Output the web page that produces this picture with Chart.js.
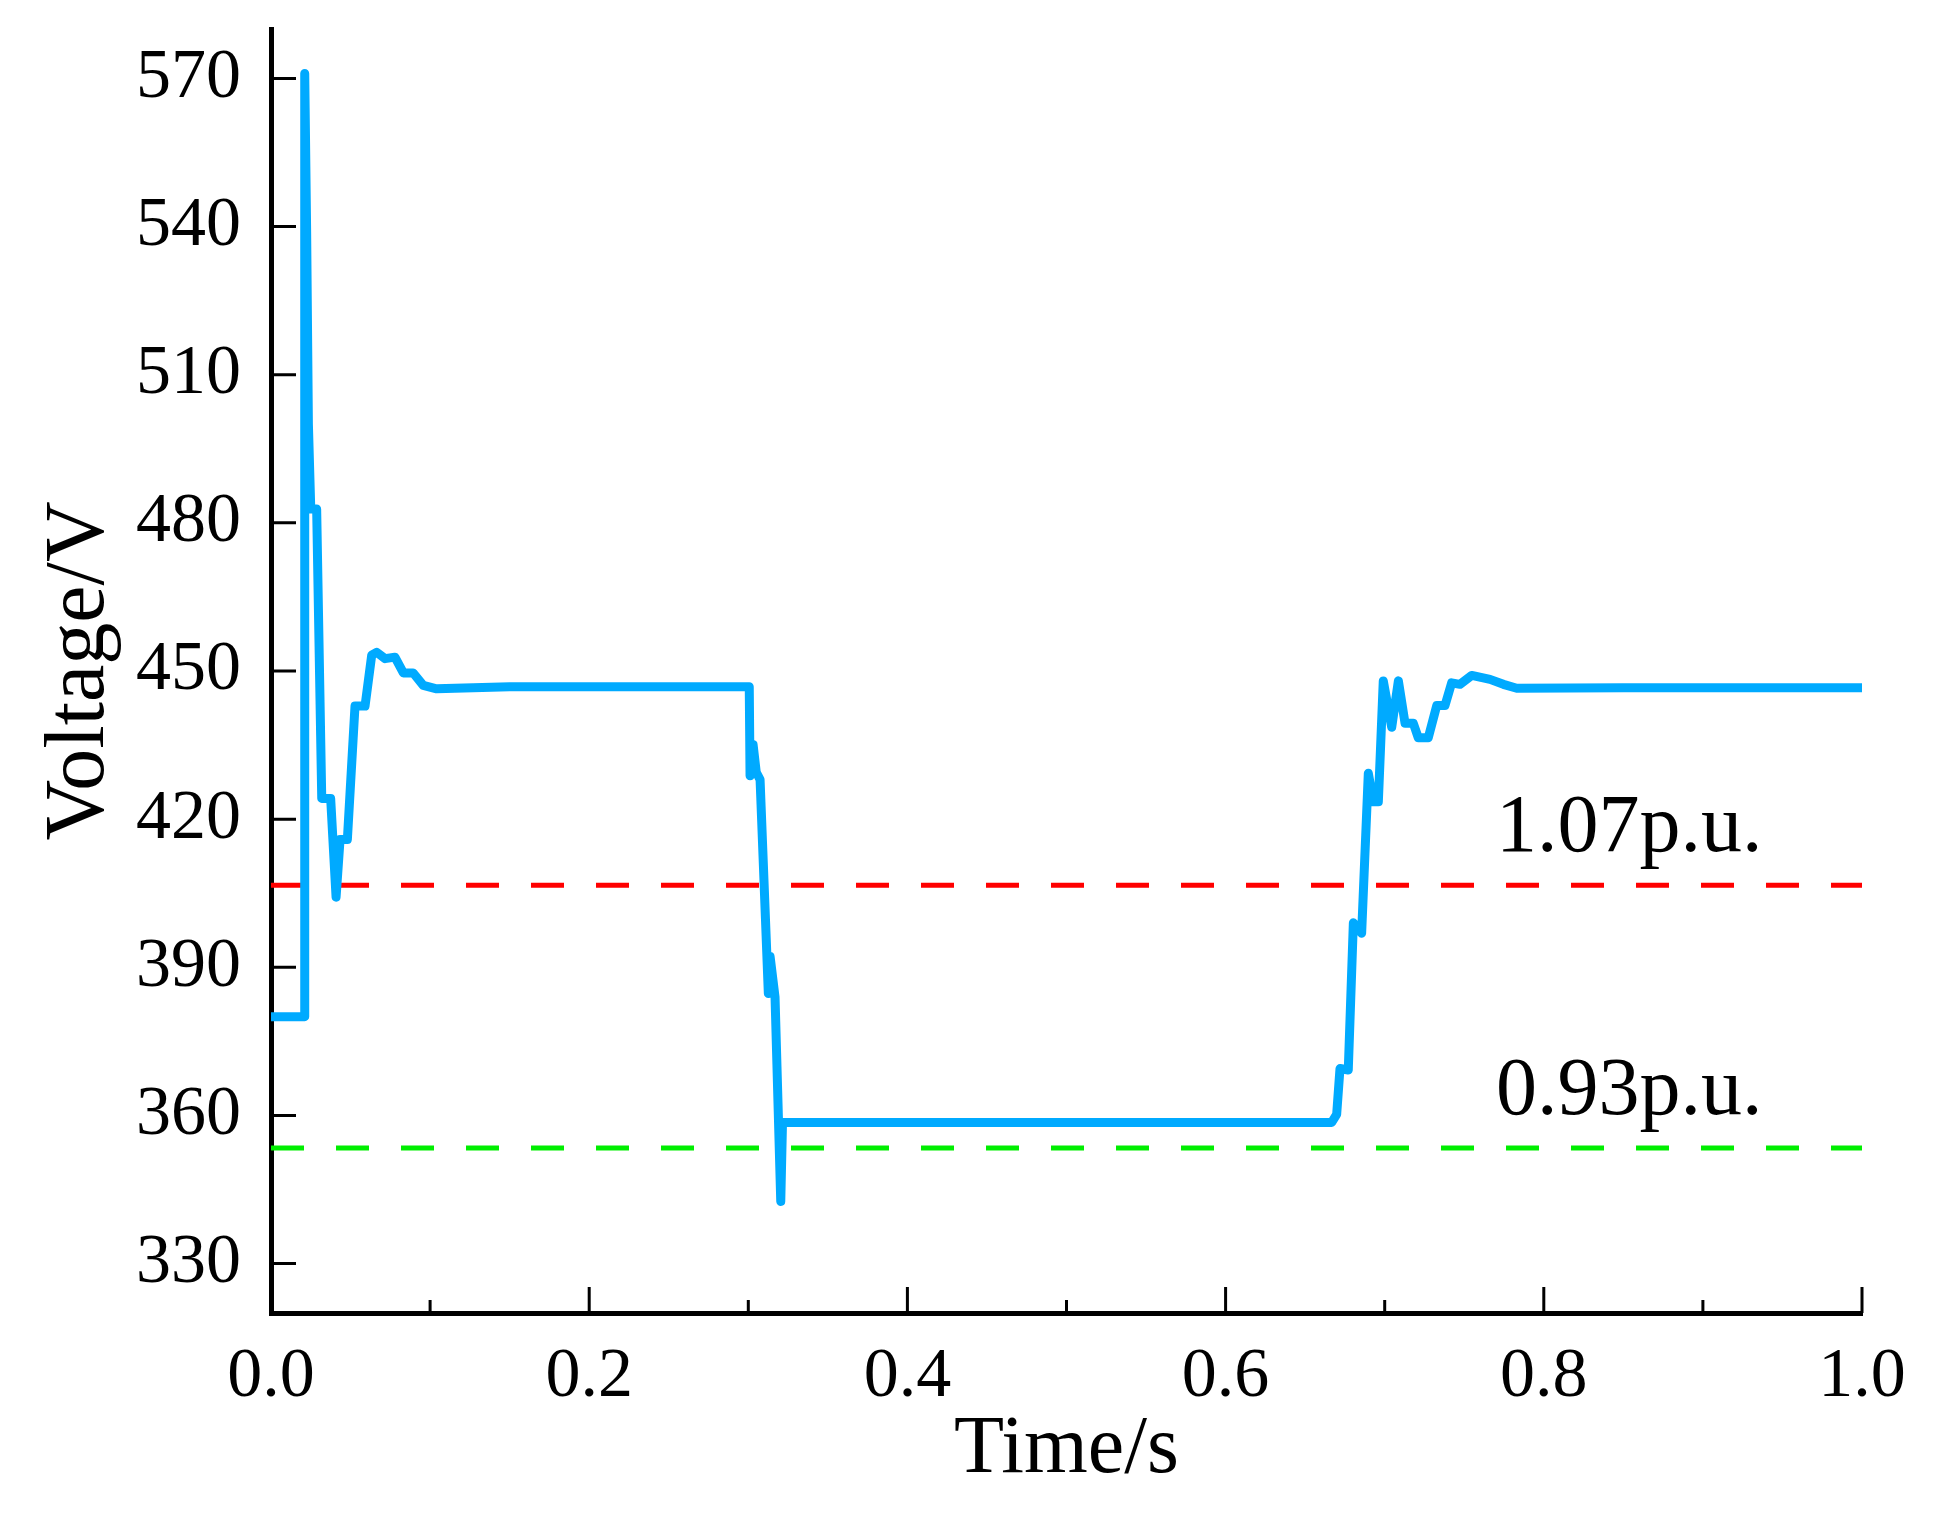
<!DOCTYPE html>
<html>
<head>
<meta charset="utf-8">
<script src="https://cdn.jsdelivr.net/npm/chart.js@4.4.0/dist/chart.umd.min.js"></script>
<style>
  html, body { margin: 0; padding: 0; background: #fff; }
  canvas { display: block; }
</style>
</head>
<body>
<canvas id="voltage-chart" width="1959" height="1522"></canvas>
<script>
// Voltage trace (time in s, voltage in V)
const times = [
  0, 0.0210, 0.0212, 0.0224, 0.0235, 0.0250, 0.0287, 0.0319, 0.0375, 0.0409, 0.0434, 0.0480,
  0.0528, 0.0591, 0.0633, 0.0664, 0.0717, 0.0779, 0.0832, 0.0894, 0.0957, 0.1041, 0.15, 0.3006,
  0.3011, 0.3030, 0.3050, 0.3074, 0.3126, 0.3137, 0.3168, 0.3204, 0.3215, 0.6667,
  0.6698, 0.6719, 0.6771, 0.6803, 0.6855, 0.6897, 0.6929, 0.6960, 0.6991, 0.7044, 0.7086, 0.7128,
  0.7180, 0.7211, 0.7274, 0.7327, 0.7379, 0.7421, 0.7473, 0.7547, 0.7662, 0.7746, 0.7830, 0.85, 1.0
];
const volts = [
  380, 380, 571, 539, 500, 482.8, 482.8, 424.2, 424.2, 404.2, 415.9, 415.9,
  442.9, 442.9, 453.2, 453.8, 452.5, 452.8, 449.6, 449.6, 447.1, 446.4, 446.8, 446.8,
  428.8, 435.1, 429.5, 428, 384.7, 392.2, 384, 342.6, 358.6, 358.6,
  360.2, 369.5, 369.2, 399, 396.9, 429.3, 423.5, 423.5, 448, 438.6, 448, 439.4,
  439.4, 436.5, 436.5, 443, 443, 447.6, 447.3, 449.1, 448.3, 447.3, 446.5, 446.6, 446.6
];

// Limit lines
const nominalV = 380;
const limitPu = [1.07, 0.93];
const limitLabels = ['1.07p.u.', '0.93p.u.'];
const limitColors = ['#ff0000', '#00ee00'];

// Axis ticks
const xTicks = [0, 0.2, 0.4, 0.6, 0.8, 1.0];
const xMinorTicks = [0.1, 0.3, 0.5, 0.7, 0.9];
const yTicks = [330, 360, 390, 420, 450, 480, 510, 540, 570];

const serif = '"Liberation Serif", "Times New Roman", serif';

// ticks pointing into the plot, plus the p.u. labels
const innerTicks = {
    id: 'innerTicks',
    afterDraw(chart) {
        const { ctx, chartArea, scales: { x, y } } = chart;
        ctx.save();
        ctx.strokeStyle = '#000';
        ctx.lineWidth = 3;
        ctx.beginPath();
        yTicks.forEach(v => {
            const py = y.getPixelForValue(v);
            ctx.moveTo(chartArea.left, py);
            ctx.lineTo(chartArea.left + 25, py);
        });
        xTicks.forEach(v => {
            const px = x.getPixelForValue(v);
            ctx.moveTo(px, chartArea.bottom);
            ctx.lineTo(px, chartArea.bottom - 26);
        });
        xMinorTicks.forEach(v => {
            const px = x.getPixelForValue(v);
            ctx.moveTo(px, chartArea.bottom);
            ctx.lineTo(px, chartArea.bottom - 13);
        });
        ctx.stroke();

        ctx.fillStyle = '#000';
        ctx.font = '82px ' + serif;
        ctx.textAlign = 'left';
        ctx.textBaseline = 'alphabetic';
        limitPu.forEach((pu, i) => {
            const py = y.getPixelForValue(pu * nominalV);
            ctx.fillText(limitLabels[i], x.getPixelForValue(0.77), py - 34);
        });
        ctx.restore();
    }
};

const ctx = document.getElementById('voltage-chart').getContext('2d');
new Chart(ctx, {
    type: 'scatter',
    data: {
        datasets: [
            {
                data: times.map((t, i) => ({ x: t, y: volts[i] })),
                showLine: true,
                borderColor: 'rgb(0,170,255)',
                borderWidth: 9,
                borderJoinStyle: 'round',
                borderCapStyle: 'round',
                pointRadius: 0,
                tension: 0,
                order: 0
            },
            ...limitPu.map((pu, i) => ({
                data: [{ x: 0, y: pu * nominalV }, { x: 1, y: pu * nominalV }],
                showLine: true,
                borderColor: limitColors[i],
                borderWidth: 5,
                borderDash: [33, 32],
                pointRadius: 0,
                order: 1
            }))
        ]
    },
    options: {
        responsive: false,
        animation: false,
        layout: { padding: { left: 20, top: 29, right: 97, bottom: 0 } },
        plugins: {
            legend: { display: false },
            tooltip: { enabled: false }
        },
        scales: {
            x: {
                type: 'linear',
                min: 0,
                max: 1,
                afterBuildTicks: scale => { scale.ticks = xTicks.map(v => ({ value: v })); },
                afterFit: scale => {
                    scale.height = 209;
                    scale.paddingLeft = 0;
                    scale.paddingRight = 0;
                },
                grid: { display: false },
                border: { display: true, color: '#000', width: 5 },
                ticks: {
                    autoSkip: false,
                    maxRotation: 0,
                    padding: 15,
                    color: '#000',
                    font: { family: serif, size: 70 },
                    callback: v => v.toFixed(1)
                },
                title: {
                    display: true,
                    text: 'Time/s',
                    color: '#000',
                    font: { family: serif, size: 82 },
                    padding: { top: 0, bottom: 22 }
                }
            },
            y: {
                min: 320,
                max: 580,
                afterBuildTicks: scale => { scale.ticks = yTicks.map(v => ({ value: v })); },
                afterFit: scale => {
                    scale.width = 251;
                    scale.paddingTop = 0;
                    scale.paddingBottom = 0;
                },
                grid: { display: false },
                border: { display: true, color: '#000', width: 5 },
                ticks: {
                    padding: 22,
                    color: '#000',
                    font: { family: serif, size: 70 }
                },
                title: {
                    display: true,
                    text: 'Voltage/V',
                    color: '#000',
                    font: { family: serif, size: 84 },
                    padding: { top: 11, bottom: 0 }
                }
            }
        }
    },
    plugins: [innerTicks]
});
</script>
</body>
</html>
